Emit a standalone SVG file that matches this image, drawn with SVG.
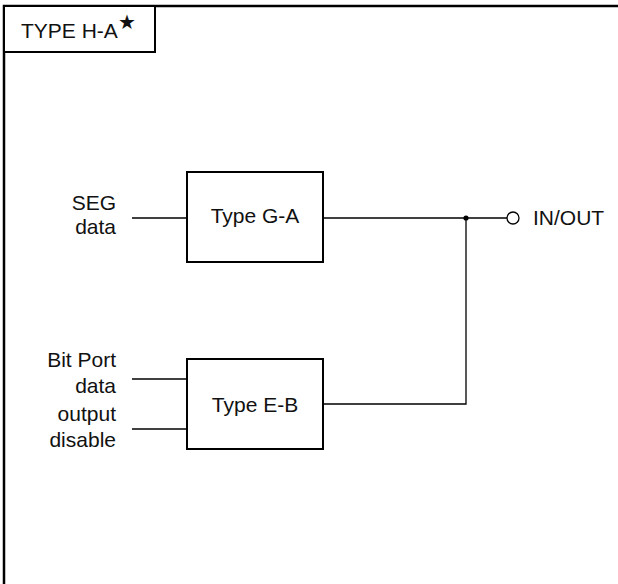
<svg xmlns="http://www.w3.org/2000/svg" width="618" height="584" viewBox="0 0 618 584">
  <style>
    .frame { fill: none; stroke: #000; stroke-width: 2.5; }
    .box { fill: #fff; stroke: #000; stroke-width: 2; }
    .wire { fill: none; stroke: #000; stroke-width: 1.3; }
    text { font-family: "Liberation Sans", Arial, sans-serif; font-size: 21px; fill: #111; }
    .c { text-anchor: middle; }
    .r { text-anchor: end; }
  </style>

  <!-- outer frame (top and left edges) -->
  <g id="frame">
    <path class="frame" d="M4,584 V6 H618"/>
  </g>

  <!-- title tab -->
  <g id="title">
    <rect class="box" x="4" y="6" width="151" height="46"/>
    <text x="21" y="38">TYPE H-A</text>
    <text x="127" y="29" class="c" style="font-family: 'DejaVu Sans', sans-serif; font-size: 20px;">★</text>
  </g>

  <!-- connectors -->
  <g id="connectors">
    <line class="wire" x1="132" y1="218" x2="187" y2="218"/>
    <line class="wire" x1="323" y1="218" x2="507" y2="218"/>
    <line class="wire" x1="132" y1="379" x2="187" y2="379"/>
    <line class="wire" x1="132" y1="429" x2="187" y2="429"/>
    <polyline class="wire" points="323,404 466,404 466,218"/>
    <circle cx="466" cy="218" r="2.6" fill="#000"/>
  </g>

  <g id="seg-data">
    <text x="116" y="210" class="r">SEG</text>
    <text x="116" y="234" class="r">data</text>
  </g>

  <g id="type-ga">
    <rect class="box" x="187" y="172" width="136" height="90"/>
    <text x="255" y="223" class="c">Type G-A</text>
  </g>

  <g id="bitport-inputs">
    <text x="116" y="367" class="r">Bit Port</text>
    <text x="116" y="393" class="r">data</text>
    <text x="116" y="421" class="r">output</text>
    <text x="116" y="447" class="r">disable</text>
  </g>

  <g id="type-eb">
    <rect class="box" x="187" y="359" width="136" height="90"/>
    <text x="255" y="412" class="c">Type E-B</text>
  </g>

  <g id="inout">
    <circle cx="513" cy="218" r="6" fill="#fff" stroke="#000" stroke-width="1.3"/>
    <text x="533" y="225">IN/OUT</text>
  </g>
</svg>
